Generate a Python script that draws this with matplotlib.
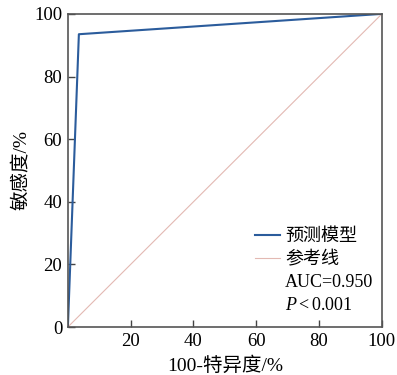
import matplotlib
matplotlib.use('Agg')
import matplotlib.pyplot as plt
from matplotlib.lines import Line2D

# ROC data (100 - specificity, sensitivity), in %
fpr = [0, 3.5, 100]
tpr = [0, 93.5, 100]
ref_x = [0, 100]
ref_y = [0, 100]
xticks = [20, 40, 60, 80, 100]
yticks = [0, 20, 40, 60, 80, 100]
legend_labels = ['预测模型', '参考线', 'AUC=0.950', r'$\it{P}<$0.001']

plt.rcParams['font.family'] = ['Liberation Serif', 'Noto Sans CJK SC', 'DejaVu Sans']
plt.rcParams['mathtext.fontset'] = 'custom'
plt.rcParams['mathtext.it'] = 'Liberation Serif:italic'
plt.rcParams['mathtext.rm'] = 'Liberation Serif'

blue = '#2b5c9c'
pink = '#e3b9b3'

fig = plt.figure(figsize=(3.97, 3.75), dpi=100)
ax = fig.add_axes([0.171, 0.128, 0.791, 0.835])

ax.plot(ref_x, ref_y, color=pink, linewidth=0.8)
ax.plot(fpr, tpr, color=blue, linewidth=1.5)

ax.set_xlim(0, 100)
ax.set_ylim(0, 100)
ax.set_xticks(xticks)
ax.set_yticks(yticks)
ax.tick_params(direction='in', length=5, width=1, color='#444444', labelsize=13.5, pad=4)
for s in ax.spines.values():
    s.set_color('#555555')
    s.set_linewidth(1.2)

ax.set_xlabel('100-特异度/%', fontsize=14, labelpad=5)
ax.set_ylabel('敏感度/%', fontsize=14, labelpad=3)

handles = [Line2D([], [], color=blue, linewidth=1.5),
           Line2D([], [], color=pink, linewidth=0.8),
           Line2D([], [], color='none'),
           Line2D([], [], color='none')]
ax.legend(handles, legend_labels, loc='lower right', frameon=False, fontsize=13,
          handlelength=1.4, handletextpad=0.3, labelspacing=0.33,
          bbox_to_anchor=(1.025, -0.01))

fig.savefig('out.png', dpi=100)
